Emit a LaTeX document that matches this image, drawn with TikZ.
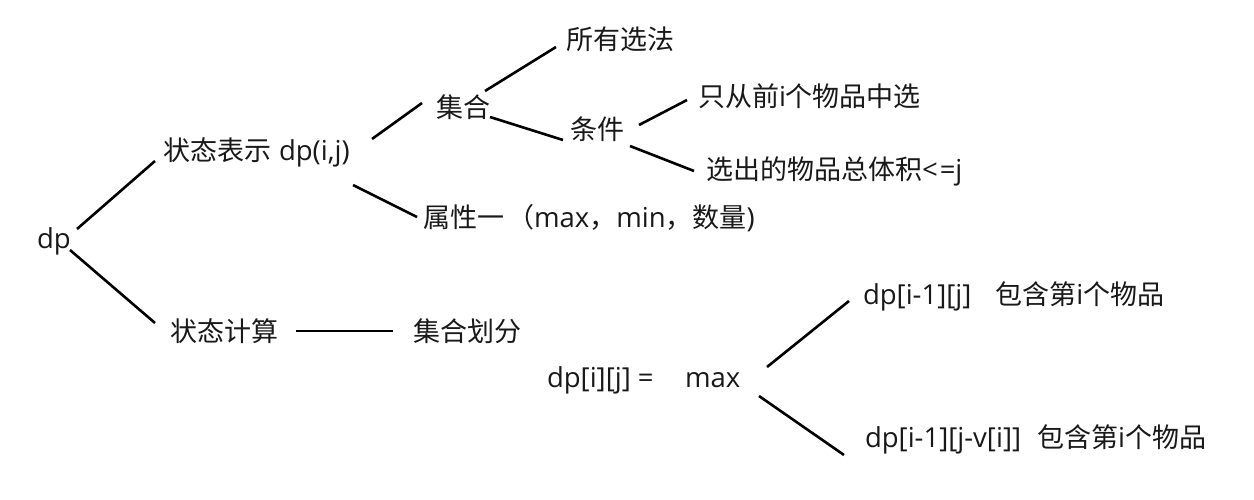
\documentclass[tikz,border=0pt]{standalone}
\usepackage{fontspec}
\setmainfont{Open Sans}
\newfontfamily\cjk[Scale=0.982]{Noto Sans CJK SC}
\usetikzlibrary{calc}
\begin{document}
\begin{tikzpicture}[x=1pt,y=-1pt,
  lbl/.style={anchor=base west,inner sep=0pt,outer sep=0pt,text=black!90,
    font=\fontsize{27.5}{32}\selectfont},
  link/.style={line width=2.6pt,black}]
\useasboundingbox[fill=white] (0,0) rectangle (1254,500);
% nodes
\node[lbl] (dp) at (37,248) {dp};
\node[lbl] (s1) at (163,161) {{\cjk 状态表示}\hspace{8pt}dp(i,j)};
\node[lbl] (s2) at (170,341) {\cjk 状态计算};
\node[lbl] (jhhf) at (413,341) {\cjk 集合划分};
\node[lbl] (jh) at (436,118) {\cjk 集合};
\node[lbl] (sx) at (566,50) {\cjk 所有选法};
\node[lbl] (tj) at (570,140) {\cjk 条件};
\node[lbl] (c1) at (698,107) {{\cjk 只从前}i{\cjk 个物品中选}};
\node[lbl] (c2) at (706,180) {{\cjk 选出的物品总体积}<\hspace{2pt}=j};
\node[lbl] (attr) at (423,228) {{\cjk 属性一}\hspace{3pt}{\cjk （}max{\cjk ，}min{\cjk ，数量})};
\node[lbl] (eq) at (547,387) {dp[i][j] =};
\node[lbl] (mx) at (685,387) {max};
\node[lbl] (r1) at (863,304) {dp[i-1][j]\hspace{24pt}{\cjk 包含第}i{\cjk 个物品}};
\node[lbl] (r2) at (865,447) {dp[i-1][j-v[i]]\hspace{16pt}{\cjk 包含第}i{\cjk 个物品}};
% connectors
\draw[link] ($(dp.base west)+(40,-19)$) -- ($(s1.base west)+(-8,0)$);
\draw[link] ($(dp.base west)+(33,2)$) -- ($(s2.base west)+(-15,-18)$);
\draw[link] ($(s1.base west)+(209,-22)$) -- ($(jh.base west)+(-14,-15)$);
\draw[link] ($(s1.base west)+(190,24)$) -- ($(attr.base west)+(-6,-11)$);
\draw[link] ($(jh.base west)+(49,-27)$) -- ($(sx.base west)+(-10,-3)$);
\draw[link] ($(jh.base west)+(54,-1)$) -- ($(tj.base west)+(-7,0)$);
\draw[link] ($(tj.base west)+(69,-15)$) -- ($(c1.base west)+(-11,-7)$);
\draw[link] ($(tj.base west)+(60,6)$) -- ($(c2.base west)+(-12,-9)$);
\draw[link] ($(s2.base west)+(126,-10)$) -- ($(jhhf.base west)+(-20,-10)$);
\draw[link] ($(mx.base west)+(82,-20)$) -- ($(r1.base west)+(-14,-3)$);
\draw[link] ($(mx.base west)+(74,9)$) -- ($(r2.base west)+(-21,8)$);
\end{tikzpicture}
\end{document}
